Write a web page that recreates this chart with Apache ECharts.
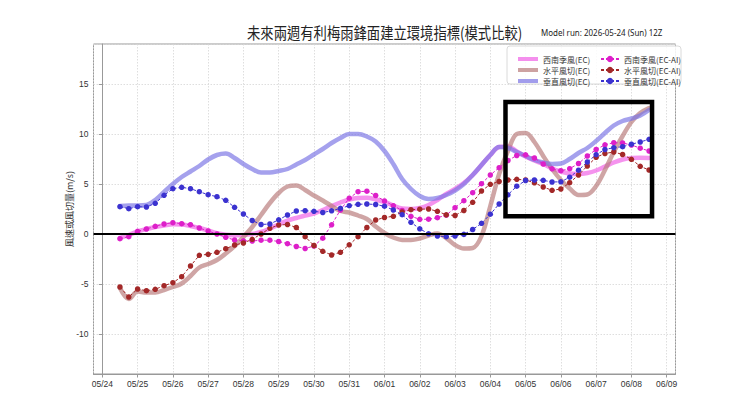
<!DOCTYPE html>
<html><head><meta charset="utf-8">
<script src="https://cdn.jsdelivr.net/npm/echarts@6/dist/echarts.min.js"></script>
<style>html,body{margin:0;padding:0;background:#fff}#c{width:750px;height:406px}</style>
</head><body><div id="c"></div>
<script>
// Lead time in days since 2026-05-24 00Z (6-hourly)
const leadDays = [0.5,0.75,1,1.25,1.5,1.75,2,2.25,2.5,2.75,3,3.25,3.5,3.75,4,4.25,4.5,4.75,5,5.25,5.5,5.75,6,6.25,6.5,6.75,7,7.25,7.5,7.75,8,8.25,8.5,8.75,9,9.25,9.5,9.75,10,10.25,10.5,10.75,11,11.25,11.5,11.75,12,12.25,12.5,12.75,13,13.25,13.5,13.75,14,14.25,14.5,14.75,15,15.25,15.5];
const tickLabels = ['05/24','05/25','05/26','05/27','05/28','05/29','05/30','05/31','06/01','06/02','06/03','06/04','06/05','06/06','06/07','06/08','06/09'];
const yTicks = [-10,-5,0,5,10,15];

const swEC = [-0.4,-0.1,0.25,0.5,0.7,0.85,0.97,0.95,0.8,0.6,0.35,0.07,-0.08,-0.13,-0.1,0.0,0.2,0.55,0.95,1.35,1.6,1.85,2.05,2.4,2.8,3.15,3.45,3.6,3.62,3.45,3.2,2.85,2.55,2.5,2.6,2.9,3.4,4.0,4.5,5.1,5.9,6.9,7.9,8.7,8.75,8.25,7.75,7.35,7.0,6.55,6.25,6.05,6.0,6.1,6.35,6.75,7.15,7.45,7.6,7.63,7.6];
const hsEC = [-5.4,-6.5,-5.75,-5.85,-5.85,-5.6,-5.3,-4.95,-4.2,-3.35,-3.0,-2.6,-1.95,-1.2,-0.3,0.7,1.9,3.1,4.1,4.75,4.85,4.4,3.85,3.35,2.8,2.3,2.15,1.85,1.5,0.75,0.1,-0.35,-0.6,-0.6,-0.45,-0.15,0.05,-0.4,-1.1,-1.45,-1.4,-0.2,2.8,6.0,8.3,10.0,10.1,9.2,7.8,6.5,5.4,4.55,3.9,3.95,4.8,6.4,8.2,9.8,11.2,12.1,12.6];
const vsEC = [2.8,2.85,2.85,2.9,3.4,4.2,5.0,5.7,6.25,6.8,7.45,7.9,8.05,7.6,7.0,6.5,6.15,6.15,6.3,6.5,6.95,7.4,7.95,8.5,9.1,9.6,10.0,10.0,9.75,9.25,8.3,7.0,5.5,4.5,3.8,3.5,3.6,3.9,4.35,5.0,5.9,6.9,7.9,8.7,8.6,8.2,7.8,7.4,7.15,7.0,7.05,7.5,8.1,8.6,9.3,10.1,10.85,11.3,11.55,11.85,12.4];
const swAI = [-0.47,-0.27,0.27,0.5,0.77,1.0,1.13,1.03,0.93,0.6,0.3,0.0,-0.33,-0.6,-0.68,-0.7,-0.62,-0.62,-0.75,-0.97,-1.25,-1.45,-1.2,-0.42,0.92,2.4,3.58,4.23,4.28,3.85,3.3,2.83,2.35,1.77,1.47,1.48,1.63,1.88,2.63,3.33,4.13,5.03,5.9,6.63,7.35,7.85,7.92,7.6,7.0,6.52,6.33,6.53,7.05,7.8,8.45,8.92,9.13,9.1,8.9,8.58,8.3];
const hsAI = [-5.3,-6.3,-5.5,-5.67,-5.53,-5.17,-4.87,-4.27,-3.2,-2.13,-2.03,-1.83,-1.47,-1.1,-0.9,-0.53,0.0,0.57,0.9,0.95,0.65,-0.27,-1.15,-1.73,-2.1,-1.83,-1.08,-0.27,0.65,1.4,1.65,1.77,2.2,2.43,2.48,2.5,2.27,1.92,1.85,2.35,3.17,4.3,4.97,5.25,5.4,5.47,5.4,5.12,4.7,4.37,4.5,5.13,5.9,6.8,7.67,8.05,8.2,7.95,7.47,6.77,6.4];
const vsAI = [2.73,2.53,2.73,2.7,3.07,3.87,4.53,4.67,4.53,4.23,3.93,3.73,3.37,2.67,2.0,1.35,0.95,1.0,1.42,1.9,2.3,2.33,2.27,2.15,2.32,2.56,2.83,2.97,3.0,2.95,2.78,2.4,1.93,1.17,0.52,0.02,-0.2,-0.27,-0.2,-0.04,0.45,1.07,1.98,3.0,3.92,4.78,5.35,5.4,5.37,5.2,5.22,5.68,6.38,7.2,7.93,8.45,8.63,8.73,8.98,9.2,9.47];

const ecNames = ['西南季風(EC)','水平風切(EC)','垂直風切(EC)'];
const aiNames = ['西南季風(EC-AI)','水平風切(EC-AI)','垂直風切(EC-AI)'];
const titleText = '未來兩週有利梅雨鋒面建立環境指標(模式比較)';
const runText = 'Model run: 2026-05-24 (Sun) 12Z';
const yName = '風速或風切量(m/s)';
const highlightBox = { fromDay: 11.43, toDay: 15.585, top: 13.2, bottom: 1.77 };

const pair = arr => leadDays.map((d, i) => [d, arr[i]]);
const CJK = '"Noto Sans CJK TC","Noto Sans CJK SC",sans-serif';
const TICKFONT = '"Liberation Sans Narrow","Liberation Sans",sans-serif';

function ecSeries(name, data, color, extra) {
  return Object.assign({
    name, type: 'line', data: pair(data), showSymbol: false, symbol: 'none', smooth: 0.35,
    lineStyle: { color, width: 4.5, opacity: 0.68, cap: 'round', join: 'round' },
    itemStyle: { color, opacity: 0.7 }, z: 2
  }, extra || {});
}
function aiSeries(name, data, color, extra) {
  return Object.assign({
    name, type: 'line', data: pair(data), symbol: 'circle', symbolSize: 5.5, showSymbol: true,
    lineStyle: { color, width: 1, type: [3, 2] },
    itemStyle: { color }, z: 3
  }, extra || {});
}

const chart = echarts.init(document.getElementById('c'), null, { renderer: 'svg' });
chart.setOption({
  animation: false,
  backgroundColor: '#fff',
  grid: { left: 93.5, right: 74.5, top: 44, bottom: 32, show: true, borderColor: '#999', borderWidth: 1 },
  xAxis: {
    type: 'value', min: -0.25, max: 16.25, splitNumber: 16, minInterval: 1, maxInterval: 1,
    axisLine: { show: true, onZero: false, lineStyle: { color: '#999', width: 1 } },
    axisTick: { show: true, length: 3.5, lineStyle: { color: '#999' } },
    axisLabel: {
      margin: 5, fontSize: 8.5, color: '#333', fontFamily: TICKFONT, showMinLabel: false, showMaxLabel: false,
      formatter: v => { const r = Math.round(v); return Math.abs(v - r) < 1e-6 && tickLabels[r] ? tickLabels[r] : ''; }
    },
    splitLine: { show: true, lineStyle: { color: '#d6d6d6', width: 0.8, type: [1.5, 1.5] } }
  },
  yAxis: {
    type: 'value', min: -14, max: 19, minInterval: 5, maxInterval: 5,
    name: yName, nameLocation: 'middle', nameGap: 20, nameRotate: 90, nameMoveOverlap: false,
    nameTextStyle: { fontSize: 9, color: '#333', fontFamily: CJK },
    axisLine: { show: true, lineStyle: { color: '#999', width: 1 } },
    axisTick: { show: true, length: 3.5, lineStyle: { color: '#999' } },
    axisLabel: {
      margin: 5, fontSize: 8.5, color: '#333', fontFamily: TICKFONT, showMinLabel: false, showMaxLabel: false,
      formatter: v => { const r = Math.round(v); return Math.abs(v - r) < 1e-6 && yTicks.indexOf(r) >= 0 ? String(r) : ''; }
    },
    splitLine: { show: true, lineStyle: { color: '#d6d6d6', width: 0.8, type: [1.5, 1.5] } }
  },
  legend: [
    { data: ecNames, orient: 'vertical', left: 513, top: 49, itemWidth: 20, itemHeight: 4, itemGap: 1, icon: 'rect',
      selectedMode: false, textStyle: { fontSize: 8, color: '#333', fontFamily: CJK, lineHeight: 10 }, z: 6 },
    { data: aiNames, orient: 'vertical', left: 595, top: 49, itemWidth: 18, itemHeight: 8, itemGap: 1,
      selectedMode: false, textStyle: { fontSize: 8, color: '#333', fontFamily: CJK, lineHeight: 10 }, z: 6 }
  ],
  graphic: { elements: [
    { type: 'rect', z: 5, shape: { x: 507, y: 46, width: 174, height: 38, r: 3 },
      style: { fill: 'rgba(255,255,255,0.85)', stroke: '#d0d0d0', lineWidth: 0.8 } },
    { type: 'text', x: 247, y: 32, scaleX: 0.86, z: 6,
      style: { text: titleText, x: 0, y: 0, align: 'left', verticalAlign: 'middle', font: '15.5px ' + CJK, fill: '#222' } },
    { type: 'text', x: 541, y: 33, scaleX: 0.84, z: 6,
      style: { text: runText, x: 0, y: 0, align: 'left', verticalAlign: 'middle', font: '9.5px "Noto Sans",sans-serif', fill: '#222' } }
  ] },
  series: [
    ecSeries(ecNames[0], swEC, '#f060e6', {
      markLine: { silent: true, symbol: ['none', 'none'], label: { show: false }, z: 4,
        lineStyle: { color: '#000', width: 2.2, type: 'solid', opacity: 1 }, data: [{ yAxis: 0 }] }
    }),
    ecSeries(ecNames[1], hsEC, '#b87a7a'),
    ecSeries(ecNames[2], vsEC, '#7b74e4'),
    aiSeries(aiNames[0], swAI, '#dd1fc9'),
    aiSeries(aiNames[1], hsAI, '#a32828'),
    aiSeries(aiNames[2], vsAI, '#3b32d0', {
      markArea: { silent: true, z: 8,
        itemStyle: { color: 'rgba(0,0,0,0)', borderColor: '#000', borderWidth: 4.5 },
        data: [[{ xAxis: highlightBox.fromDay, yAxis: highlightBox.top }, { xAxis: highlightBox.toDay, yAxis: highlightBox.bottom }]] }
    })
  ]
});
</script></body></html>
